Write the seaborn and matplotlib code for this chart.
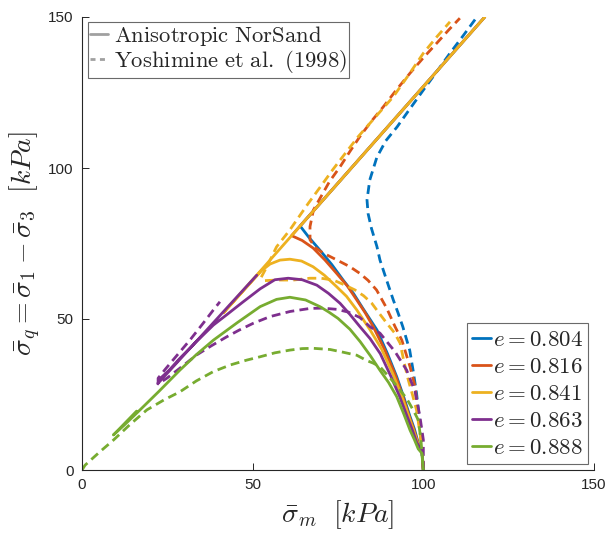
import numpy as np
import pandas as pd
import seaborn as sns
import matplotlib
matplotlib.use("Agg")
import matplotlib.pyplot as plt
from matplotlib.lines import Line2D

# void ratios and MATLAB default colours
e_labels = ["0.804", "0.816", "0.841", "0.863", "0.888"]
colors = ["#0072BD", "#D95319", "#EDB120", "#7E2F8E", "#77AC30"]

# Anisotropic NorSand (solid) stress paths
ns_p = {
    "0.804": [100, 99.6, 98.5, 97.4, 96.1, 94.3, 92.2, 89.5, 86.4, 82.3, 79.5, 76.5, 73.2, 69.7, 66.5, 63.9, 118],
    "0.816": [100, 99.6, 98.4, 97.2, 95.8, 93.8, 91.6, 88.6, 85.3, 83.0, 80.5, 77.7, 74.6, 71.2, 67.7, 64.5, 61.4, 118],
    "0.841": [100, 99.6, 98.3, 97.0, 95.5, 93.5, 91.0, 87.8, 84.4, 80.5, 77.5, 74.6, 71.0, 67.7, 64.3, 60.9, 58.0, 55.1, 52.6, 41.4, 118],
    "0.863": [100, 99.6, 98.1, 96.7, 95.0, 93.0, 90.5, 87.4, 84.4, 81.4, 78.5, 75.6, 72.2, 68.8, 64.5, 60.4, 56.5, 52.2,
              47.0, 42.5, 38.5, 33.5, 28.7, 25.5, 23.0, 22.2, 51.2],
    "0.888": [100, 99.6, 98.5, 97.4, 96.1, 94.3, 92.2, 89.8, 87.3, 84.5, 81.5, 78.5, 75.0, 72.3, 69.7, 65.5, 60.9, 57.0,
              52.2, 45.5, 38.5, 33.5, 28.7, 22.5, 16.0, 12.5, 9.2, 16.0],
}
ns_q = {
    "0.804": [0, 6.5, 9.0, 13.5, 17.7, 24.0, 30.9, 38.5, 46.4, 53.5, 58.5, 62.9, 68.0, 72.8, 77.0, 80.8, 150],
    "0.816": [0, 6.5, 9.0, 13.5, 18.0, 25.0, 32.0, 40.0, 47.5, 52.0, 56.3, 61.0, 65.1, 69.5, 73.5, 76.0, 77.6, 150],
    "0.841": [0, 6.5, 9.0, 13.5, 18.5, 25.0, 32.0, 40.0, 46.4, 53.0, 57.5, 60.7, 64.5, 67.3, 69.2, 69.8, 69.5, 68.2, 66.0, 52.0, 150],
    "0.863": [0, 6.5, 9.0, 13.5, 18.5, 24.5, 31.0, 38.5, 43.5, 47.5, 51.5, 55.2, 58.5, 61.2, 63.0, 63.5, 63.0, 60.0,
              55.5, 51.5, 48.0, 42.5, 37.0, 33.0, 30.4, 28.6, 64.5],
    "0.888": [0, 5.5, 7.0, 10.0, 13.2, 18.5, 24.3, 29.0, 33.0, 37.8, 42.5, 46.6, 50.2, 52.3, 54.1, 56.3, 57.2, 56.5,
              54.1, 48.8, 43.0, 38.2, 33.1, 26.0, 18.8, 15.0, 11.6, 19.5],
}

# Yoshimine et al. (1998) (dashed) test data
yo_p = {
    "0.804": [100, 99.8, 99.4, 99.0, 98.0, 97.0, 96.0, 94.0, 92.6, 91.2, 89.2, 87.3, 86.4, 84.8, 83.8, 83.5, 84.3, 86.4,
              89.0, 92.3, 96.0, 100.0, 104.0, 107.8, 111.8, 115.7],
    "0.816": [100, 99.5, 98.5, 97.6, 96.1, 93.7, 91.7, 89.3, 86.3, 83.8, 81.4, 78.5, 75.6, 73.0, 70.7, 68.5, 66.8, 66.8,
              67.8, 69.5, 72.5, 75.6, 78.5, 81.4, 84.8, 88.3, 92.2, 96.1, 100.0, 103.9, 107.5, 110.7],
    "0.841": [100, 99.8, 99.0, 98.0, 96.8, 95.6, 94.3, 93.2, 91.5, 89.3, 87.0, 84.9, 82.5, 80.0, 76.5, 73.6, 70.0, 66.8,
              61.9, 57.0, 53.5, 52.5, 54.0, 55.1, 57.0, 60.9, 63.9, 66.3, 70.0, 73.5, 77.5, 81.0, 84.5, 88.0, 91.2,
              95.5, 100.0, 104.0, 107.8],
    "0.863": [100, 100, 100, 99.0, 97.6, 95.1, 91.7, 87.3, 84.3, 81.4, 78.0, 74.6, 70.5, 66.8, 61.0, 55.1, 50.2, 46.0,
              42.4, 38.0, 33.6, 29.0, 25.0, 22.3, 22.3, 24.5, 27.7, 31.6, 35.5, 38.5, 40.4],
    "0.888": [0, 0.9, 5.0, 9.2, 14.0, 19.0, 24.0, 28.7, 33.5, 38.5, 43.5, 48.3, 52.2, 56.5, 60.9, 64.5, 67.7, 72.7,
              76.5, 80.5, 83.5, 85.3, 87.3, 91.0, 95.1, 97.2, 98.5, 99.3, 99.9, 100],
}
yo_q = {
    "0.804": [0, 2.3, 9.0, 15.5, 25.5, 33.0, 39.7, 47.4, 52.0, 56.3, 63.0, 69.5, 74.0, 80.0, 85.0, 89.4, 96.0, 103.6,
              109.0, 113.6, 119.5, 125.8, 132.0, 138.0, 144.0, 150.0],
    "0.816": [0, 8.8, 17.7, 27.6, 34.2, 43.0, 47.5, 53.5, 59.6, 62.8, 65.1, 67.3, 69.0, 70.5, 71.8, 73.5, 76.2, 80.6,
              86.1, 89.5, 95.5, 100.4, 105.5, 110.4, 115.5, 120.3, 126.0, 131.4, 136.5, 141.3, 145.8, 149.6],
    "0.841": [0, 5.0, 12.5, 19.9, 25.0, 29.8, 36.0, 42.0, 45.5, 48.6, 52.0, 55.2, 57.7, 59.6, 61.5, 62.9, 63.5, 63.5,
              62.9, 62.9, 62.7, 63.8, 67.0, 69.5, 73.9, 79.5, 84.4, 88.3, 94.0, 99.5, 105.4, 110.5, 115.0, 119.5, 123.6,
              130.5, 138.0, 143.5, 148.4],
    "0.863": [0, 3.3, 10.0, 17.7, 25.9, 33.1, 39.2, 45.3, 47.5, 50.5, 52.3, 53.2, 53.6, 53.5, 52.5, 50.8, 48.6, 46.3,
              44.1, 41.2, 38.1, 34.0, 30.5, 28.5, 30.4, 33.5, 37.8, 43.0, 48.6, 53.0, 55.7],
    "0.888": [0, 1.6, 5.8, 9.9, 15.0, 19.9, 23.2, 25.9, 29.5, 32.6, 34.8, 36.4, 37.5, 38.8, 39.7, 40.2, 40.3, 39.9,
              39.0, 38.0, 36.2, 35.4, 34.2, 29.5, 23.7, 19.5, 16.6, 10.0, 1.0, 0],
}

rows = []
for e in e_labels:
    for src, P, Q in [("NorSand", ns_p, ns_q), ("Yoshimine", yo_p, yo_q)]:
        for i, (p, q) in enumerate(zip(P[e], Q[e])):
            rows.append({"e": e, "source": src, "i": i, "p": p, "q": q})
df = pd.DataFrame(rows)

sns.set_theme(style="ticks")
plt.rcParams["font.family"] = ["Liberation Sans", "DejaVu Sans"]
plt.rcParams["mathtext.fontset"] = "cm"

fig = plt.figure(figsize=(6.09, 5.33), dpi=100)
ax = fig.add_axes([82 / 609, 63 / 533, 512 / 609, 453 / 533])

sns.lineplot(data=df, x="p", y="q", hue="e", style="source", hue_order=e_labels,
             palette=colors, style_order=["NorSand", "Yoshimine"],
             dashes={"NorSand": "", "Yoshimine": (3.2, 1.9)},
             estimator=None, sort=False, linewidth=2, legend=False, ax=ax)

ax.set_xlim(0, 150)
ax.set_ylim(0, 150)
ax.set_xticks([0, 50, 100, 150])
ax.set_yticks([0, 50, 100, 150])
ax.tick_params(direction="in", length=5, width=0.7, labelsize=11, colors="#262626", pad=6)
for s in ["top", "right"]:
    ax.spines[s].set_visible(False)
for s in ["left", "bottom"]:
    ax.spines[s].set_color("#262626")
    ax.spines[s].set_linewidth(0.8)

ax.set_xlabel(r"$\bar{\sigma}_m\ \ [kPa]$", fontsize=20, color="#262626", labelpad=4)
ax.set_ylabel(r"$\bar{\sigma}_q = \bar{\sigma}_1 - \bar{\sigma}_3\ \ [kPa]$", fontsize=20, color="#262626", labelpad=4)

# legend for line style
style_handles = [Line2D([], [], color="#a0a0a0", lw=2),
                 Line2D([], [], color="#a0a0a0", lw=2, dashes=(1.8, 1.6))]
leg1 = ax.legend(style_handles, [r"$\mathrm{Anisotropic\ NorSand}$", r"$\mathrm{Yoshimine\ et\ al.\ (1998)}$"],
                 loc="upper left", bbox_to_anchor=(6 / 512, 448 / 453), borderaxespad=0,
                 fontsize=16.3, handlelength=0.8, handletextpad=0.25, labelspacing=0.0,
                 borderpad=0.1, fancybox=False, framealpha=1, edgecolor="#6a6a6a")
leg1.get_frame().set_linewidth(0.8)
ax.add_artist(leg1)

# legend for void ratio
e_handles = [Line2D([], [], color=c, lw=2) for c in colors]
leg2 = ax.legend(e_handles, [rf"$e = {e}$" for e in e_labels],
                 loc="lower right", bbox_to_anchor=(506 / 512, 6 / 453), borderaxespad=0,
                 fontsize=16.5, handlelength=0.85, handletextpad=0.1, labelspacing=0.18,
                 borderpad=0.2, fancybox=False, framealpha=1, edgecolor="#6a6a6a")
leg2.get_frame().set_linewidth(0.8)

fig.savefig("out.png", dpi=100)
